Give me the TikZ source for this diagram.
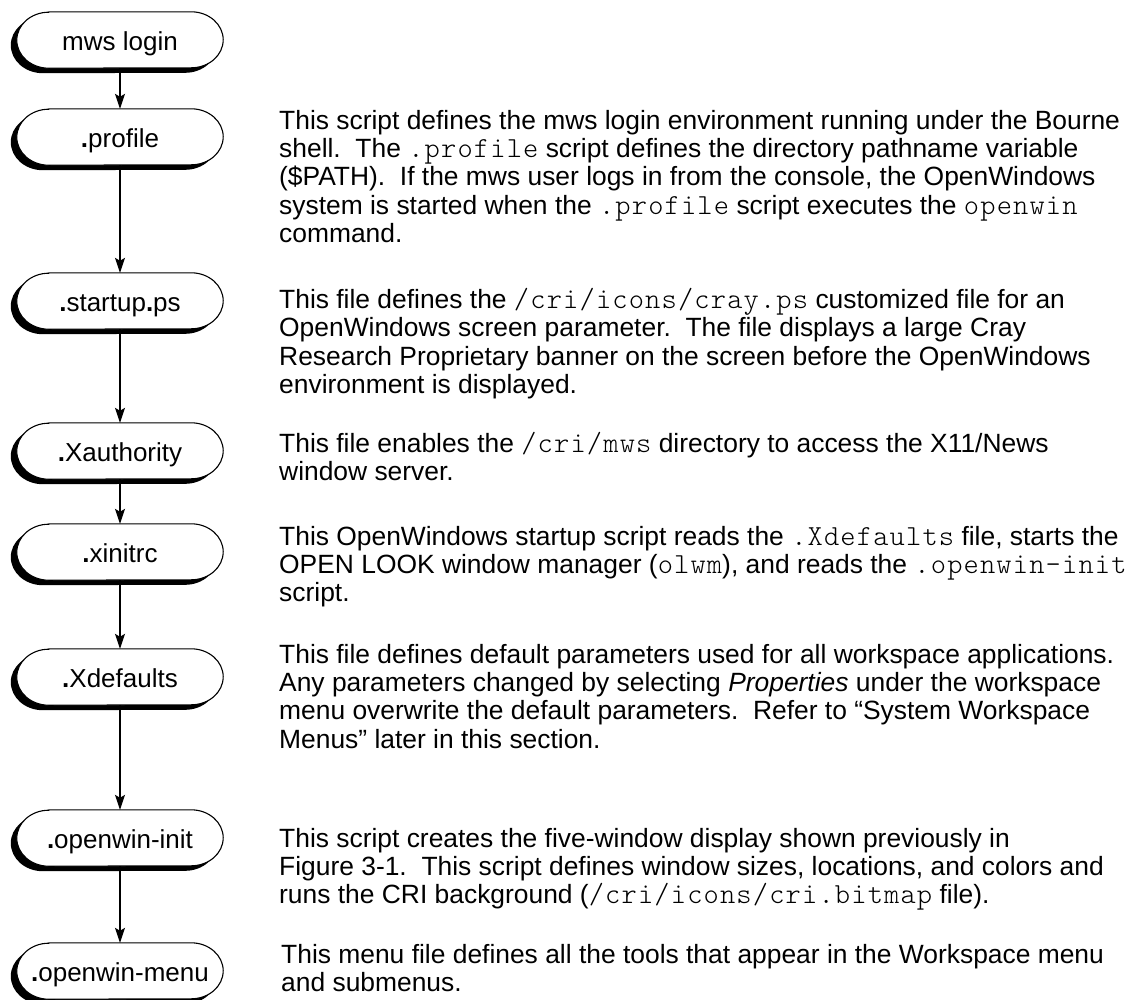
\documentclass[tikz,border=0pt]{standalone}
\usepackage{fontspec}
\setmainfont{Liberation Sans}
\setmonofont{lmmonolt10-regular.otf}[Scale=1.1,LetterSpace=4]
\usetikzlibrary{arrows.meta}
\pgfdeclarelayer{background}
\pgfsetlayers{background,main}
\newcommand\mono[1]{{\ttfamily #1}}
\newcommand\dotb{\textbf{.}}

\tikzset{
  stage/.style={shape=rectangle, inner sep=0pt, minimum width=206pt,
    minimum height=56pt, text height=24pt, text depth=4pt,
    font=\fontsize{26}{28}\selectfont},
  note/.style={anchor=north west, inner sep=0pt, align=left,
    font=\fontsize{26.4}{28.3}\selectfont},
  flow/.style={line width=1.1pt, -{Stealth[length=15pt,width=10pt,inset=3pt]}},
  pillline/.style={line width=1.1pt, draw=black, fill=white},
}
% rounded "pill" outline around a stage node, optionally shifted
\newcommand\pillpath[2]{%
  ([shift={#2},xshift=32pt]#1.north west)
  -- ([shift={#2},xshift=-32pt]#1.north east)
  arc[start angle=90, end angle=-90, x radius=32pt, y radius=28pt]
  -- ([shift={#2},xshift=32pt]#1.south west)
  arc[start angle=270, end angle=90, x radius=32pt, y radius=28pt]
  -- cycle}

\begin{document}
\begin{tikzpicture}[x=1pt,y=1pt]
\useasboundingbox (0,0) rectangle (1134,-999);

% start-up chain
\node[stage] (login)   at (120,-40)  {mws login};
\node[stage] (profile) at (120,-137) {\dotb profile};
\node[stage] (startup) at (120,-301) {\dotb startup\dotb ps};
\node[stage] (xauth)   at (120,-451) {\dotb Xauthority};
\node[stage] (xinit)   at (120,-552) {\dotb xinitrc};
\node[stage] (xdef)    at (120,-677) {\dotb Xdefaults};
\node[stage] (owinit)  at (120,-838) {\dotb openwin-init};
\node[stage] (owmenu)  at (120,-971) {\dotb openwin-menu};

\begin{pgfonlayer}{background}
\foreach \n in {login,profile,startup,xauth,xinit,xdef,owinit,owmenu}{
  \fill[black] \pillpath{\n}{(-6pt,-5pt)};
  \path[pillline] \pillpath{\n}{(0,0)};
}
\end{pgfonlayer}

\draw[flow] (login)   -- (profile);
\draw[flow] (profile) -- (startup);
\draw[flow] (startup) -- (xauth);
\draw[flow] (xauth)   -- (xinit);
\draw[flow] (xinit)   -- (xdef);
\draw[flow] (xdef)    -- (owinit);
\draw[flow] (owinit)  -- (owmenu);

% descriptions
\node[note] (d1) at (279,-109) {\rule{0pt}{20pt}This script defines the mws login environment running under the Bourne\\
shell.\ \ The \mono{.profile} script defines the directory pathname variable\\
(\$PATH).\ \ If the mws user logs in from the console, the OpenWindows\\
system is started when the \mono{.profile} script executes the \mono{openwin}\\
command.};

\node[note] (d2) at (279,-288) {\rule{0pt}{20pt}This file defines the \mono{/cri/icons/cray.ps} customized file for an\\
OpenWindows screen parameter.\ \ The file displays a large Cray\\
Research Proprietary banner on the screen before the OpenWindows\\
environment is displayed.};

\node[note] (d3) at (279,-432) {\rule{0pt}{20pt}This file enables the \mono{/cri/mws} directory to access the X11/News\\
window server.};

\node[note] (d4) at (279,-525) {\rule{0pt}{20pt}This OpenWindows startup script reads the \mono{.Xdefaults} file, starts the\\
OPEN LOOK window manager (\mono{olwm}), and reads the \mono{.openwin-init}\\
script.};

\node[note] (d5) at (279,-643) {\rule{0pt}{20pt}This file defines default parameters used for all workspace applications.\\
Any parameters changed by selecting \textit{Properties} under the workspace\\
menu overwrite the default parameters.\ \ Refer to ``System Workspace\\
Menus'' later in this section.};

\node[note] (d6) at (279,-827) {\rule{0pt}{20pt}This script creates the five-window display shown previously in\\
Figure 3-1.\ \ This script defines window sizes, locations, and colors and\\
runs the CRI background (\mono{/cri/icons/cri.bitmap} file).};

\node[note] (d7) at (281,-943) {\rule{0pt}{20pt}This menu file defines all the tools that appear in the Workspace menu\\
and submenus.};
\end{tikzpicture}
\end{document}
